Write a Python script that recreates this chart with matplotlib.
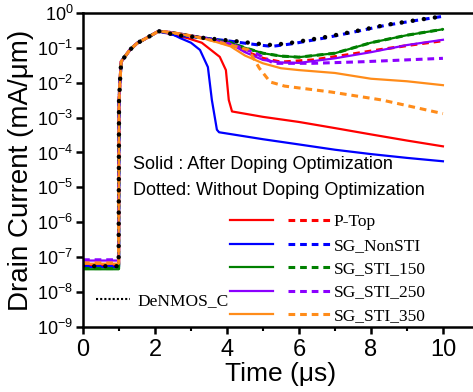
import matplotlib

matplotlib.use("Agg")
import matplotlib.pyplot as plt
from matplotlib.legend_handler import HandlerTuple
from matplotlib.lines import Line2D
import numpy as np

plt.rcParams["font.family"] = ["Liberation Sans", "DejaVu Sans"]
plt.rcParams["mathtext.fontset"] = "custom"
plt.rcParams["mathtext.rm"] = "Liberation Sans"
plt.rcParams["mathtext.it"] = "Liberation Sans:italic"

# shared part: off state then turn-on at t = 1 us
T_OFF = [0.0, 0.99]
T_RISE = [1.0, 1.03, 1.06, 1.3, 1.5, 1.8, 2.1]
I_RISE = [3e-3, 1.2e-2, 4e-2, 8.7e-2, 0.135, 0.2, 0.3]

# tails (t >= 2.1 us not included) -- solid = after doping optimization
T_PTOP = [2.5, 2.9, 3.3, 3.8, 3.97, 4.05, 4.14, 5.0, 6.0, 7.0, 8.0, 9.0, 10.0]
I_PTOP = [0.24, 0.19, 0.14, 0.055, 0.023, 3.2e-3, 1.5e-3, 1.05e-3, 7.5e-4, 5e-4, 3.3e-4, 2.2e-4, 1.5e-4]
T_NON = [2.5, 2.7, 3.0, 3.25, 3.47, 3.58, 3.72, 3.78, 5.0, 6.0, 7.0, 8.0, 9.0, 10.0]
I_NON = [0.24, 0.19, 0.14, 0.087, 0.028, 3.2e-3, 4.5e-4, 3.8e-4, 2.4e-4, 1.7e-4, 1.2e-4, 9e-5, 7e-5, 5.6e-5]
T_TAIL = [2.5, 3.0, 3.5, 4.1, 4.5, 5.0, 5.5, 6.0, 7.0, 8.0, 9.0, 10.0]
I_150 = [0.27, 0.22, 0.18, 0.14, 0.1, 0.07, 0.058, 0.054, 0.07, 0.14, 0.23, 0.34]
I_250 = [0.27, 0.22, 0.18, 0.13, 0.075, 0.045, 0.038, 0.037, 0.05, 0.075, 0.12, 0.17]
I_350 = [0.27, 0.22, 0.17, 0.11, 0.06, 0.036, 0.026, 0.023, 0.019, 0.013, 0.011, 0.0085]

# dotted = without doping optimization
T_PTOP_D = [2.5, 3.0, 3.5, 4.1, 4.5, 5.0, 5.5, 6.4, 7.3, 8.2, 9.1, 10.0]
I_PTOP_D = [0.27, 0.22, 0.18, 0.13, 0.08, 0.05, 0.039, 0.045, 0.062, 0.087, 0.12, 0.16]
T_NON_D = [2.6, 3.2, 4.1, 4.4, 4.9, 5.25, 5.8, 6.7, 7.5, 8.4, 9.3, 10.0]
I_NON_D = [0.23, 0.2, 0.155, 0.14, 0.12, 0.11, 0.13, 0.19, 0.28, 0.44, 0.62, 0.8]
I_150_D = [0.27, 0.22, 0.18, 0.14, 0.1, 0.07, 0.058, 0.054, 0.07, 0.14, 0.23, 0.34]
T_250_D = [2.5, 3.0, 3.5, 4.1, 4.8, 5.3, 6.4, 7.8, 10.0]
I_250_D = [0.27, 0.22, 0.18, 0.13, 0.07, 0.036, 0.036, 0.04, 0.05]
T_350_D = [2.5, 3.0, 3.5, 4.1, 4.6, 4.9, 5.2, 5.6, 6.9, 8.3, 10.0]
I_350_D = [0.27, 0.22, 0.17, 0.12, 0.087, 0.026, 0.0105, 0.008, 0.0054, 0.0032, 0.0013]
T_REF = [2.6, 3.2, 4.1, 4.36, 4.9, 5.25, 5.8, 6.7, 7.5, 8.4, 9.3, 10.0]
I_REF = [0.23, 0.2, 0.16, 0.15, 0.13, 0.12, 0.14, 0.2, 0.29, 0.45, 0.63, 0.8]

OFF = {"P-Top": 5.8e-8, "SG_NonSTI": 5.2e-8, "SG_STI_150": 4.5e-8,
       "SG_STI_250": 8e-8, "SG_STI_350": 6.5e-8}
COLORS = {"P-Top": "#ff0000", "SG_NonSTI": "#0000ff", "SG_STI_150": "#008000",
          "SG_STI_250": "#8b00ff", "SG_STI_350": "#ff8c1a"}
DECADES = [1e-9, 1e-8, 1e-7, 1e-6, 1e-5, 1e-4, 1e-3, 1e-2, 1e-1, 1e0]


def curve(off, t_tail, i_tail):
    t = T_OFF + T_RISE + t_tail
    i = [off, off] + I_RISE + i_tail
    return np.array(t), np.array(i)


solid = {"P-Top": (T_PTOP, I_PTOP), "SG_NonSTI": (T_NON, I_NON),
         "SG_STI_150": (T_TAIL, I_150), "SG_STI_250": (T_TAIL, I_250),
         "SG_STI_350": (T_TAIL, I_350)}
dotted = {"P-Top": (T_PTOP_D, I_PTOP_D), "SG_NonSTI": (T_NON_D, I_NON_D),
          "SG_STI_150": (T_TAIL, I_150_D), "SG_STI_250": (T_250_D, I_250_D),
          "SG_STI_350": (T_350_D, I_350_D)}

fig = plt.figure(figsize=(4.73, 3.92), dpi=100)
ax = fig.add_axes([0.1755, 0.166, 0.837, 0.801])

handles = []
for name in OFF:
    c = COLORS[name]
    hs, = ax.plot(*curve(OFF[name], *solid[name]), color=c, lw=1.6)
    hd, = ax.plot(*curve(OFF[name] * 1.05, *dotted[name]), color=c, lw=2.2,
                  ls=(0, (2.2, 1.6)))
    handles.append((hs, hd))

ax.plot(*curve(5.5e-8, T_REF, I_REF), color="black", lw=3.2,
        ls=(0, (0.01, 2.5)), dash_capstyle="round", zorder=5)

ax.set_yscale("log")
ax.set_xlim(0, 11)
ax.set_ylim(1e-9, 1)
ax.set_yticks(DECADES)
ax.set_xticks([0, 2, 4, 6, 8, 10])
ax.set_xticks([1, 3, 5, 7, 9], minor=True)
ax.tick_params(axis="x", labelsize=17, width=1.8, length=5, which="major")
ax.tick_params(axis="x", width=1.5, length=3, which="minor")
ax.tick_params(axis="y", labelsize=13, width=1.8, length=5, which="major", pad=2)
ax.tick_params(axis="y", width=1.2, length=3, which="minor")
ax.tick_params(top=False, right=False, which="both")
for s in ax.spines.values():
    s.set_linewidth(1.8)
ax.spines["right"].set_visible(False)

ax.set_xlabel("Time (μs)", fontsize=19, labelpad=1)
ax.set_ylabel("Drain Current (mA/μm)", fontsize=20, labelpad=2)

ax.text(0.126, 0.516, "Solid : After Doping Optimization", transform=ax.transAxes,
        fontsize=13, va="center")
ax.text(0.126, 0.436, "Dotted: Without Doping Optimization", transform=ax.transAxes,
        fontsize=13, va="center")

leg = ax.legend(handles, list(OFF), handler_map={tuple: HandlerTuple(ndivide=None, pad=0.9)},
                loc="upper left", bbox_to_anchor=(0.35, 0.387), frameon=False,
                handlelength=5.8, handletextpad=0.15, labelspacing=0.42,
                prop={"family": "Liberation Serif", "size": 12.5}, borderpad=0)
ax.add_artist(leg)
ref_h = Line2D([], [], color="black", lw=1.5, ls=(0, (1, 1)))
ax.legend([ref_h], ["DeNMOS_C"], loc="upper left", bbox_to_anchor=(0.01, 0.135),
          frameon=False, handlelength=2.0, handletextpad=0.4,
          prop={"family": "Liberation Serif", "size": 12.5}, borderpad=0)

fig.savefig("out.png", dpi=100)
